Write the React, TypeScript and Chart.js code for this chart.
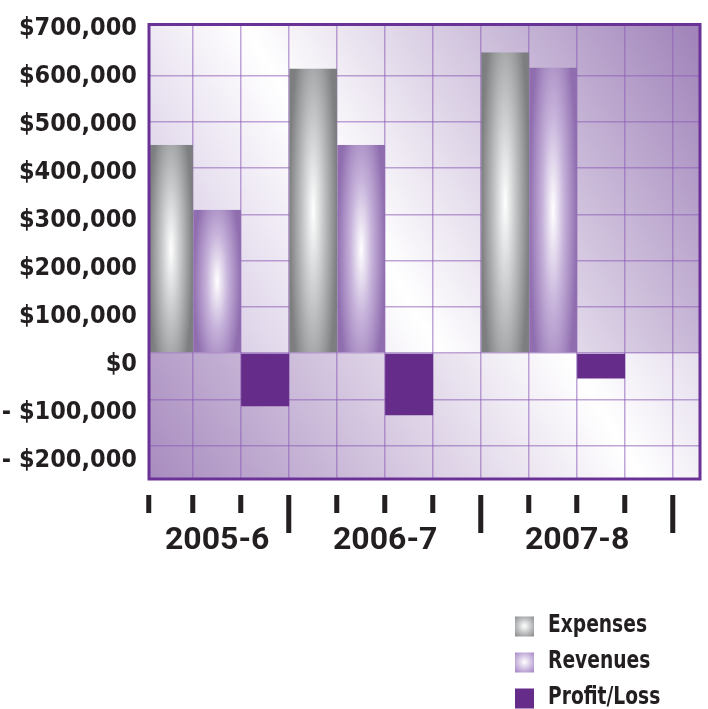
import React, { useEffect, useRef } from 'react';
import { Chart, registerables } from 'chart.js';

Chart.register(...registerables);

// ---------- data ----------
const categories = ['2005-6', '2006-7', '2007-8'];
const seriesNames = ['Expenses', 'Revenues', 'Profit/Loss'];
const expenses = [450000, 615000, 650000];
const revenues = [310000, 450000, 617000];
const profitLoss = [-115000, -134000, -55000];
const yTickValues = [700000, 600000, 500000, 400000, 300000, 200000, 100000, 0, -100000, -200000];
// slot layout of the bar columns (each bar fills one grid column)
const groupFirstSlot = [0, 3, 7];
const groupDividers = [0, 3, 7, 11];
const slotTicks = [1, 2, 3, 4, 5, 6, 7, 8, 9, 10, 11];

// ---------- axis ranges ----------
const X_MIN = 0.08;
const X_MAX = 11.56;
const Y_MIN = -272000;
const Y_MAX = 710000;
const YLABEL_MIN = -237900;
const YLABEL_MAX = 708200;

// ---------- styles ----------
const TEXT = '#231f20';
const COND = '"DejaVu Sans Condensed", "DejaVu Sans", sans-serif';
const GROUP_FONT = 'Roboto, "Liberation Sans", sans-serif';
const GRID = 'rgba(140, 92, 182, 0.55)';
const FRAME = '#6a3197';
const PROFIT = '#652d89';
const cylStyles = [
  { edge: '#7c7e80', mid: '#c2c4c6' },
  { edge: '#8f6daf', mid: '#c6b2da' },
];
const swatchEdges = ['#8e9092', '#a98bc9'];
// the first tick sits at X_MIN, so the narrowest tick gap is (1 - X_MIN) of a slot;
// widen the bar ratio so that each bar fills exactly one slot
const BAR_RATIO = 1 / (1 - X_MIN);

function cylinderFill(ctx: any, style: { edge: string; mid: string }) {
  const chart = ctx.chart;
  const raw = ctx.raw;
  const xs = chart.scales?.x;
  const ys = chart.scales?.y;
  const area = chart.chartArea;
  if (!raw || !xs || !ys || !area) return style.edge;
  const l = Math.max(xs.getPixelForValue(raw.x - 0.5), area.left);
  const r = Math.min(xs.getPixelForValue(raw.x + 0.5), area.right);
  const t = ys.getPixelForValue(Math.max(raw.y, 0));
  const b = ys.getPixelForValue(Math.min(raw.y, 0));
  const w = Math.max(2, Math.round(r - l));
  const h = Math.max(2, Math.round(b - t));
  const off = document.createElement('canvas');
  off.width = w;
  off.height = h;
  const g = off.getContext('2d')!;
  g.fillStyle = style.edge;
  g.fillRect(0, 0, w, h);
  g.translate(w / 2, h / 2);
  g.scale(w / 2, h * 0.75);
  const rg = g.createRadialGradient(0, 0, 0, 0, 0, 1);
  rg.addColorStop(0, '#ffffff');
  rg.addColorStop(0.45, style.mid);
  rg.addColorStop(1, style.edge);
  g.fillStyle = rg;
  g.fillRect(-1, -1, 2, 2);
  const pat = chart.ctx.createPattern(off, 'no-repeat');
  if (!pat) return style.edge;
  pat.setTransform(new DOMMatrix([1, 0, 0, 1, l, t]));
  return pat;
}

const backgroundPlugin = {
  id: 'plotBackground',
  beforeDraw(chart: any) {
    const { ctx, chartArea: a, scales } = chart;
    const zero = scales.y.getPixelForValue(0);
    const w = a.right - a.left;
    const rise = zero - a.top;
    ctx.save();
    const g1 = ctx.createLinearGradient(a.left, zero, a.right, a.top);
    g1.addColorStop(0, '#ccbcdd');
    g1.addColorStop(0.39, '#ffffff');
    g1.addColorStop(1, '#9f82b9');
    ctx.fillStyle = g1;
    ctx.fillRect(a.left, a.top, w, zero - a.top);
    const g2 = ctx.createLinearGradient(a.left, a.bottom, a.right, a.bottom - rise);
    g2.addColorStop(0, '#a88cbf');
    g2.addColorStop(0.66, '#ffffff');
    g2.addColorStop(1, '#cdbfdd');
    ctx.fillStyle = g2;
    ctx.fillRect(a.left, zero, w, a.bottom - zero);
    ctx.restore();
  },
};

const framePlugin = {
  id: 'plotFrame',
  afterDatasetsDraw(chart: any) {
    const { ctx, chartArea: a } = chart;
    ctx.save();
    ctx.strokeStyle = FRAME;
    ctx.lineWidth = 3;
    ctx.strokeRect(a.left, a.top, a.right - a.left, a.bottom - a.top);
    ctx.restore();
  },
};

const LEGEND_BOX_X = 515;
const LEGEND_TEXT_X = 548;
const LEGEND_Y0 = 625;
const LEGEND_STEP = 36;
const LEGEND_BOX = 19;
const LEGEND_SQUEEZE = 0.83;

const legendPlugin = {
  id: 'stackedLegend',
  afterDraw(chart: any) {
    const { ctx } = chart;
    chart.data.datasets.forEach((ds: any, i: number) => {
      const cy = LEGEND_Y0 + i * LEGEND_STEP;
      const x0 = LEGEND_BOX_X;
      const y0 = cy - LEGEND_BOX / 2 + 1;
      ctx.save();
      if (i < 2) {
        const c = LEGEND_BOX / 2;
        const rg = ctx.createRadialGradient(x0 + c, y0 + c, 0, x0 + c, y0 + c, LEGEND_BOX * 0.68);
        rg.addColorStop(0, '#ffffff');
        rg.addColorStop(1, swatchEdges[i]);
        ctx.fillStyle = rg;
      } else {
        ctx.fillStyle = PROFIT;
      }
      ctx.fillRect(x0, y0, LEGEND_BOX, LEGEND_BOX + 1);
      ctx.translate(LEGEND_TEXT_X, cy);
      ctx.scale(LEGEND_SQUEEZE, 1);
      ctx.fillStyle = TEXT;
      ctx.font = `bold 25px ${COND}`;
      ctx.textAlign = 'left';
      ctx.textBaseline = 'middle';
      ctx.fillText(ds.label, 0, 0);
      ctx.restore();
    });
  },
};

const seriesValues = [expenses, revenues, profitLoss];

function formatMoney(v: number) {
  if (v === 0) return '$0';
  const s = '$' + Math.abs(v).toLocaleString('en-US');
  return v < 0 ? '- ' + s : s;
}

export default function App() {
  const ref = useRef<HTMLCanvasElement>(null);

  useEffect(() => {
    if (!ref.current) return;
    const datasets = seriesValues.map((vals, s) => ({
      label: seriesNames[s],
      data: vals.map((v, g) => ({ x: groupFirstSlot[g] + s + 0.5, y: v })),
      backgroundColor: s === 2 ? PROFIT : (c: any) => cylinderFill(c, cylStyles[s]),
      borderWidth: 0,
      grouped: false,
      barPercentage: BAR_RATIO,
      categoryPercentage: 1,
      clip: 0,
    }));

    const chart = new Chart(ref.current, {
      type: 'bar',
      data: { datasets } as any,
      options: {
        animation: false,
        responsive: false,
        events: [],
        layout: { padding: { top: 17, right: 8, bottom: 0, left: 0 } },
        plugins: { legend: { display: false }, tooltip: { enabled: false } },
        scales: {
          x: {
            type: 'linear',
            position: 'bottom',
            weight: 0,
            offset: false,
            min: X_MIN,
            max: X_MAX,
            afterBuildTicks: (axis: any) => {
              axis.ticks = [X_MIN, ...slotTicks].map((v) => ({ value: v }));
            },
            afterFit: (axis: any) => {
              axis.height = 0;
            },
            ticks: { display: false },
            border: { display: false },
            grid: {
              offset: false,
              color: GRID,
              lineWidth: 1.5,
              drawTicks: true,
              tickLength: 54,
              tickWidth: 5,
              tickColor: TEXT,
              tickBorderDash: (c: any) => {
                const v = c.tick ? c.tick.value : 0;
                return groupDividers.includes(v) && v > 0 ? [0, 16, 38, 200] : [0, 16, 18, 200];
              },
            },
          },
          x2: {
            type: 'linear',
            position: 'bottom',
            weight: 1,
            offset: false,
            min: X_MIN,
            max: X_MAX,
            afterBuildTicks: (axis: any) => {
              axis.ticks = categories.map((_, i) => ({ value: (groupDividers[i] + groupDividers[i + 1]) / 2 }));
            },
            afterFit: (axis: any) => {
              axis.height = 230;
            },
            border: { display: false },
            grid: { display: false, drawTicks: false, offset: false },
            ticks: {
              autoSkip: false,
              maxRotation: 0,
              padding: 46,
              color: TEXT,
              font: { family: GROUP_FONT, weight: 'bold', size: 32, lineHeight: 1 },
              callback: (_v: any, i: number) => categories[i],
            },
          },
          y: {
            type: 'linear',
            position: 'left',
            weight: 0,
            min: Y_MIN,
            max: Y_MAX,
            afterBuildTicks: (axis: any) => {
              axis.ticks = yTickValues.filter((v) => v < Y_MAX - 20000).map((v) => ({ value: v }));
            },
            afterFit: (axis: any) => {
              axis.width = 0;
            },
            ticks: { display: false },
            border: { display: false },
            grid: { color: GRID, lineWidth: 1.5, drawTicks: false },
          },
          y2: {
            type: 'linear',
            position: 'left',
            weight: 1,
            min: YLABEL_MIN,
            max: YLABEL_MAX,
            afterBuildTicks: (axis: any) => {
              axis.ticks = yTickValues.map((v) => ({ value: v }));
            },
            afterFit: (axis: any) => {
              axis.width = 149;
            },
            border: { display: false },
            grid: { display: false, drawTicks: false },
            ticks: {
              autoSkip: false,
              padding: 12,
              color: TEXT,
              font: { family: COND, weight: 'bold', size: 25, lineHeight: 1 },
              callback: (v: any) => formatMoney(Number(v)),
            },
          },
        },
      } as any,
      plugins: [backgroundPlugin, framePlugin, legendPlugin],
    });
    return () => chart.destroy();
  }, []);

  return (
    <div style={{ position: 'fixed', left: 0, top: 0, width: 708, height: 709, background: '#ffffff' }}>
      <canvas ref={ref} width={708} height={709} style={{ width: 708, height: 709, display: 'block' }} />
    </div>
  );
}
